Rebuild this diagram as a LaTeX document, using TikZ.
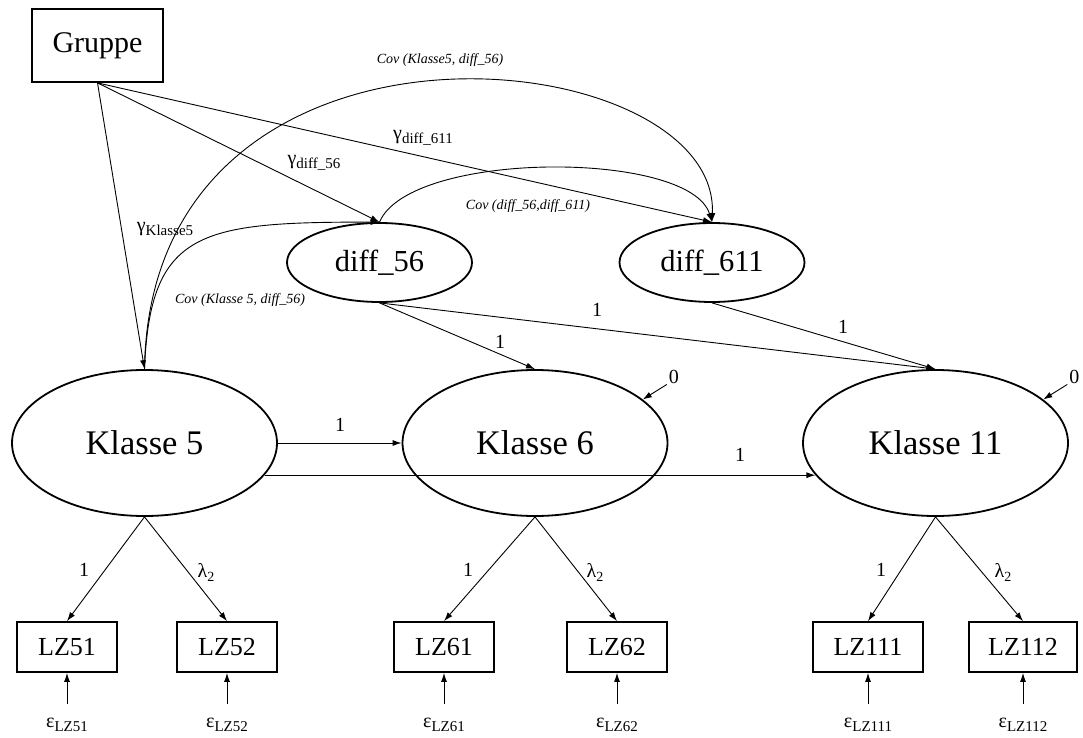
\documentclass[tikz,border=0pt]{standalone}
\usepackage{fontspec}
\setmainfont{Liberation Serif}
\usetikzlibrary{arrows.meta,shapes.geometric,calc}

\newcommand{\fs}[1]{\fontsize{#1}{#1}\selectfont}
\newcommand{\lowsub}[2][15]{\raisebox{-4pt}{\fs{#1}#2}}

\begin{document}
\begin{tikzpicture}[x=1pt,y=-1pt,
  latent/.style={ellipse, draw, line width=1.8pt, minimum width=265pt,
    minimum height=146pt, inner sep=0pt, font=\fs{34.5}},
  diffvar/.style={ellipse, draw, line width=1.8pt, minimum width=185pt,
    minimum height=79pt, inner sep=0pt, font=\fs{30.5}},
  manifest/.style={rectangle, draw, line width=1.8pt, minimum width=100pt,
    minimum height=50pt, inner sep=0pt, font=\fs{26}},
  arr/.style={draw, line width=0.9pt, -{Latex[length=9pt,width=6pt]}},
  lbl/.style={font=\fs{20}, inner sep=0pt},
  covlbl/.style={font=\fs{14}\itshape, inner sep=0pt},
]
\useasboundingbox (0,0) rectangle (1083,738);

% ---- variables
\node[rectangle, draw, line width=1.8pt, minimum width=131pt, minimum height=73pt,
      inner sep=0pt, font=\fs{30}] (G) at (97.5,45.5) {Gruppe};
\node[diffvar] (D56)  at (379.5,262.5) {diff\_56};
\node[diffvar] (D611) at (712,262.5)   {diff\_611};
\node[latent] (K5)  at (144.5,443) {Klasse 5};
\node[latent] (K6)  at (535,443)   {Klasse 6};
\node[latent] (K11) at (935.5,443) {Klasse 11};

\node[manifest] (LZ51)  at (67,647)   {LZ51};
\node[manifest] (LZ52)  at (227,647)  {LZ52};
\node[manifest] (LZ61)  at (444,647)  {LZ61};
\node[manifest] (LZ62)  at (617,647)  {LZ62};
\node[manifest, minimum width=110pt] (LZ111) at (868,647)  {LZ111};
\node[manifest, minimum width=108pt] (LZ112) at (1023,647) {LZ112};

% ---- effects of the group variable
\draw[arr] (G.south) -- (K5.north);
\draw[arr] (G.south) -- (D56.north);
\draw[arr] (G.south) -- (D611.north);
\node[lbl] (gK5)   at (165,229) {γ\lowsub{Klasse5}};
\node[lbl] (gD56)  at (314,163) {γ\lowsub{diff\_56}};
\node[lbl] (gD611) at (423,138) {γ\lowsub{diff\_611}};

% ---- covariances
\draw[arr] (K5.north) .. controls (150,-20) and (720,40) .. (D611.north);
\draw[arr] (K5.north) .. controls (150,230) and (200,222) .. (D56.north);
\draw[arr] (D56.north) .. controls (410,150) and (690,150) .. (D611.north);
\node[covlbl] (c1) at (440,60)  {Cov (Klasse5, diff\_56)};
\node[covlbl] (c2) at (528,206) {Cov (diff\_56,diff\_611)};
\node[covlbl] (c3) at (240,300) {Cov (Klasse 5, diff\_56)};

% ---- structural paths
\draw[arr] (K5.east) -- (K6.west);
\draw[arr] (K5.-15.6) -- (K11.195.6);
\draw[arr] (D56.south) -- (K6.north);
\draw[arr] (D56.south) -- (K11.north);
\draw[arr] (D611.south) -- (K11.north);
\node[lbl] (p1) at (340,425) {1};
\node[lbl] (p2) at (740,455) {1};
\node[lbl] (p3) at (500,342) {1};
\node[lbl] (p4) at (597,310) {1};
\node[lbl] (p5) at (843,327) {1};

% ---- residual terms fixed to zero
\coordinate (z6)  at ($(K6.22.8)+(24,-15)$);
\coordinate (z11) at ($(K11.22.8)+(24,-15)$);
\draw[arr] (z6) -- (K6.22.8);
\draw[arr] (z11) -- (K11.22.8);
\node[lbl] (z6l)  at ($(z6)+(7,-8)$)  {0};
\node[lbl] (z11l) at ($(z11)+(7,-8)$) {0};

% ---- measurement model
\foreach \lat/\a/\b in {K5/LZ51/LZ52, K6/LZ61/LZ62, K11/LZ111/LZ112}{
  \draw[arr] (\lat.south) -- (\a.north);
  \draw[arr] (\lat.south) -- (\b.north);
}
\node[lbl] (l51) at (84,570)   {1};
\node[lbl] (l52) at (206,572)  {λ\lowsub[14]{2}};
\node[lbl] (l61) at (468,570)  {1};
\node[lbl] (l62) at (595,572)  {λ\lowsub[14]{2}};
\node[lbl] (l111) at (881,570) {1};
\node[lbl] (l112) at (1003,572) {λ\lowsub[14]{2}};

% ---- measurement errors
\foreach \m in {LZ51,LZ52,LZ61,LZ62,LZ111,LZ112}{
  \coordinate (e\m) at ($(\m.south)+(0,31)$);
  \draw[arr] (e\m) -- (\m.south);
  \node[lbl] (t\m) at ($(e\m)+(0,21)$) {ε\lowsub{\m}};
}
\end{tikzpicture}
\end{document}
